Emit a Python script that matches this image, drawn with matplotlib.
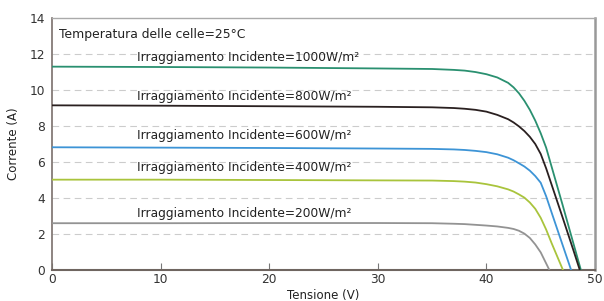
import numpy as np
import matplotlib
matplotlib.use('Agg')
import matplotlib.pyplot as plt

# I-V curves (voltage V, current A)
v_1000 = [0, 10, 20, 30, 35, 37, 38, 39, 40, 41, 42, 42.5, 43, 43.5, 44, 44.5, 45, 45.5, 46, 47, 48, 48.7]
i_1000 = [11.3, 11.28, 11.25, 11.2, 11.17, 11.12, 11.08, 11.0, 10.88, 10.7, 10.4, 10.15, 9.82, 9.4, 8.9, 8.3, 7.6, 6.8, 5.75, 3.65, 1.5, 0]

v_800 = [0, 10, 20, 30, 35, 37, 38, 39, 40, 41, 42, 42.5, 43, 43.5, 44, 44.5, 45, 45.5, 46, 47, 48, 48.6]
i_800 = [9.15, 9.13, 9.1, 9.07, 9.04, 9.0, 8.96, 8.9, 8.8, 8.62, 8.38, 8.2, 7.98, 7.72, 7.4, 7.0, 6.45, 5.65, 4.75, 2.95, 1.12, 0]

v_600 = [0, 10, 20, 30, 35, 37, 38, 39, 40, 41, 42, 42.5, 43, 43.5, 44, 44.5, 45, 45.5, 46, 47, 47.8]
i_600 = [6.82, 6.8, 6.78, 6.75, 6.73, 6.7, 6.67, 6.62, 6.55, 6.43, 6.24, 6.1, 5.93, 5.75, 5.52, 5.22, 4.85, 4.1, 3.2, 1.42, 0]

v_400 = [0, 10, 20, 30, 35, 37, 38, 39, 40, 41, 42, 42.5, 43, 43.5, 44, 44.5, 45, 45.5, 46, 47.05]
i_400 = [5.02, 5.02, 5.0, 4.98, 4.97, 4.94, 4.91, 4.86, 4.77, 4.65, 4.48, 4.36, 4.2, 4.02, 3.75, 3.4, 2.9, 2.25, 1.5, 0]

v_200 = [0, 10, 20, 30, 35, 37, 38, 39, 40, 41, 42, 42.5, 43, 43.5, 44, 44.5, 45, 45.8]
i_200 = [2.6, 2.6, 2.61, 2.61, 2.6, 2.57, 2.55, 2.51, 2.47, 2.42, 2.34, 2.28, 2.18, 2.02, 1.78, 1.42, 0.98, 0]

labels = ['Irraggiamento Incidente=1000W/m²', 'Irraggiamento Incidente=800W/m²',
          'Irraggiamento Incidente=600W/m²', 'Irraggiamento Incidente=400W/m²',
          'Irraggiamento Incidente=200W/m²']
label_y = [11.8, 9.65, 7.5, 5.7, 3.15]
colors = ['#2a9070', '#2a2020', '#3d94d6', '#a9c43c', '#939393']

curves = [(v_1000, i_1000), (v_800, i_800), (v_600, i_600), (v_400, i_400), (v_200, i_200)]

fig = plt.figure(figsize=(6.04, 3.01), dpi=100)
ax = fig.add_axes([0.0861, 0.103, 0.899, 0.837])

for y in range(2, 14, 2):
    ax.axhline(y, color='#cccccc', lw=0.8, ls=(0, (6, 4)), zorder=1)

for (v, i), c, lab, ly in zip(curves, colors, labels, label_y):
    ax.plot(v, i, color=c, lw=1.3, zorder=3)
    ax.text(7.8, ly, lab, fontsize=8.8, color='#222222', va='center', ha='left')

ax.text(0.6, 13.1, 'Temperatura delle celle=25°C', fontsize=8.9, color='#222222', va='center')

ax.set_xlim(0, 50)
ax.set_ylim(0, 14)
ax.set_xticks([0, 10, 20, 30, 40, 50])
ax.set_yticks(range(0, 16, 2))
ax.tick_params(axis='x', direction='in', length=5, color='#777777', labelsize=8.8,
               labelcolor='#333333', pad=2)
ax.tick_params(axis='y', length=0, labelsize=8.8, labelcolor='#333333', pad=5)

ax.spines['left'].set_color('#7a706c')
ax.spines['bottom'].set_color('#6f6560')
ax.spines['top'].set_color('#aaaaaa')
ax.spines['right'].set_color('#999999')
ax.spines['left'].set_linewidth(1.2)
ax.spines['bottom'].set_linewidth(1.5)
ax.spines['top'].set_linewidth(1.0)
ax.spines['right'].set_linewidth(1.8)

ax.set_xlabel('Tensione (V)', fontsize=8.5, color='#222222', labelpad=2)
ax.set_ylabel('Corrente (A)', fontsize=8.5, color='#222222', labelpad=7)

fig.savefig('out.png', dpi=100)
